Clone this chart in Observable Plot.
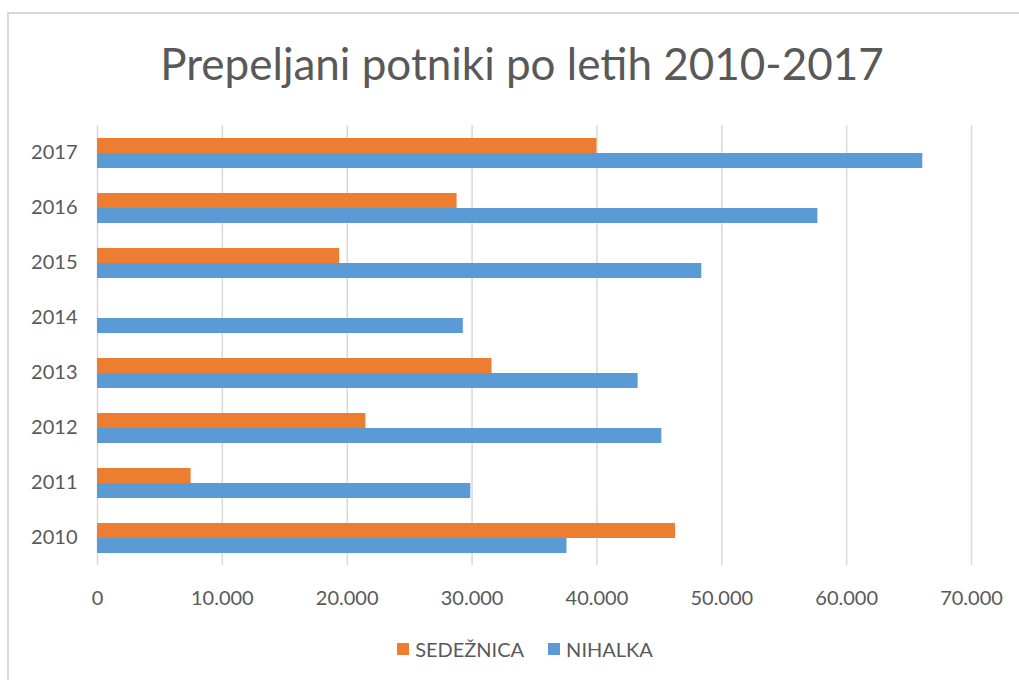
<!DOCTYPE html>
<html>
<head>
<meta charset="utf-8">
<script src="https://cdn.jsdelivr.net/npm/d3@7"></script>
<script src="https://cdn.jsdelivr.net/npm/@observablehq/plot@0.6"></script>
<style>
  html, body { margin: 0; padding: 0; background: #fff; width: 1019px; height: 680px; overflow: hidden; }
  body { position: relative; font-family: Lato, "Open Sans", sans-serif; color: #595959; }
  #frame { position: absolute; left: 7px; top: 12px; width: 1100px; height: 800px; border: 2px solid #d9d9d9; box-sizing: border-box; }
  #title { position: absolute; left: 0; top: 37px; width: 1044px; text-align: center; font-size: 44px; color: #595959; white-space: nowrap; }
  #chart { position: absolute; left: 0; top: 110px; }
  #legend { position: absolute; left: 0; top: 637px; width: 1050px; display: flex; justify-content: center; align-items: center; font-size: 20px; color: #595959; }
  .sw { display: inline-block; width: 12px; height: 12px; margin-right: 6px; }
  .item { display: inline-flex; align-items: center; margin: 0 12px; }
</style>
</head>
<body>
<div id="frame"></div>
<div id="title">Prepeljani potniki po letih 2010-2017</div>
<div id="chart"></div>
<div id="legend"></div>
<script>
const years = ["2017", "2016", "2015", "2014", "2013", "2012", "2011", "2010"];
const seriesNames = ["SEDEŽNICA", "NIHALKA"];
const sedeznica = [40000, 28800, 19400, null, 31600, 21500, 7500, 46300];
const nihalka = [66100, 57700, 48400, 29300, 43300, 45200, 29900, 37600];
const xTicks = [0, 10000, 20000, 30000, 40000, 50000, 60000, 70000];
const colors = ["#ED7D31", "#5B9BD5"];

const rows = [];
years.forEach((y, i) => {
  if (sedeznica[i] != null) rows.push({year: y, series: seriesNames[0], value: sedeznica[i]});
  if (nihalka[i] != null) rows.push({year: y, series: seriesNames[1], value: nihalka[i]});
});

const loc = d3.formatLocale({decimal: ",", thousands: ".", grouping: [3], currency: ["", ""]});
const fmt = loc.format(",");

const chart = Plot.plot({
  width: 1019,
  height: 520,
  marginLeft: 97,
  marginRight: 48,
  marginTop: 15,
  marginBottom: 65,
  style: {fontFamily: "Lato, 'Open Sans', sans-serif", color: "#595959", background: "transparent"},
  x: {domain: [0, 70000], ticks: xTicks, tickFormat: d => fmt(d)},
  y: {domain: seriesNames, axis: null, paddingInner: 0, paddingOuter: 0.833},
  fy: {domain: years, padding: 0, label: null},
  color: {domain: seriesNames, range: colors},
  marks: [
    Plot.gridX(xTicks, {stroke: "#d9d9d9", strokeOpacity: 1, strokeWidth: 1.5}),
    Plot.barX(rows, {x: "value", y: "series", fy: "year", fill: "series", inset: 0}),
    Plot.axisX(xTicks, {facetAnchor: "bottom", tickSize: 0, tickPadding: 25, fontSize: 20, tickFormat: d => fmt(d), label: null, fill: "#595959"}),
    Plot.axisFy({anchor: "left", tickSize: 0, tickPadding: 20, fontSize: 20, label: null, fill: "#595959"})
  ]
});
document.getElementById("chart").appendChild(chart);

const legend = document.getElementById("legend");
seriesNames.forEach((s, i) => {
  const item = document.createElement("span");
  item.className = "item";
  const sw = document.createElement("span");
  sw.className = "sw";
  sw.style.background = colors[i];
  item.appendChild(sw);
  item.appendChild(document.createTextNode(s));
  legend.appendChild(item);
});
</script>
</body>
</html>
